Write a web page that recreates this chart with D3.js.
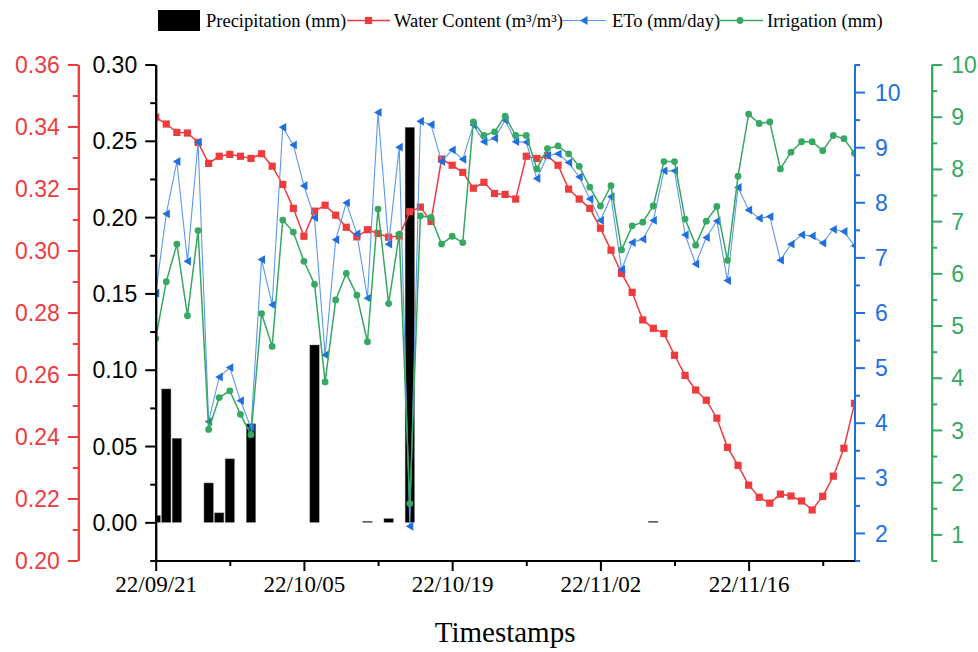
<!DOCTYPE html>
<html>
<head>
<meta charset="utf-8">
<script src="https://cdn.jsdelivr.net/npm/d3@7"></script>
<style>
  html, body { margin: 0; padding: 0; background: #fff; }
  svg { display: block; }
</style>
</head>
<body>
<svg id="chart" width="978" height="652"></svg>
<script>
// ---------------- DATA ----------------
const dates = [
  "2022-09-21","2022-09-22","2022-09-23","2022-09-24","2022-09-25","2022-09-26","2022-09-27","2022-09-28","2022-09-29","2022-09-30",
  "2022-10-01","2022-10-02","2022-10-03","2022-10-04","2022-10-05","2022-10-06","2022-10-07","2022-10-08","2022-10-09","2022-10-10",
  "2022-10-11","2022-10-12","2022-10-13","2022-10-14","2022-10-15","2022-10-16","2022-10-17","2022-10-18","2022-10-19","2022-10-20",
  "2022-10-21","2022-10-22","2022-10-23","2022-10-24","2022-10-25","2022-10-26","2022-10-27","2022-10-28","2022-10-29","2022-10-30",
  "2022-10-31","2022-11-01","2022-11-02","2022-11-03","2022-11-04","2022-11-05","2022-11-06","2022-11-07","2022-11-08","2022-11-09",
  "2022-11-10","2022-11-11","2022-11-12","2022-11-13","2022-11-14","2022-11-15","2022-11-16","2022-11-17","2022-11-18","2022-11-19",
  "2022-11-20","2022-11-21","2022-11-22","2022-11-23","2022-11-24","2022-11-25","2022-11-26"
];

const precipitation = [
  0.0045, 0.0874, 0.0551, 0, 0, 0.0258, 0.0062, 0.0416, 0, 0.0645,
  0, 0, 0, 0, 0, 0.1162, 0, 0, 0, 0,
  0.0007, 0, 0.0024, 0, 0.2588, 0, 0, 0, 0, 0,
  0, 0, 0, 0, 0, 0, 0, 0, 0, 0,
  0, 0, 0, 0, 0, 0, 0, 0.0007, 0, 0,
  0, 0, 0, 0, 0, 0, 0, 0, 0, 0,
  0, 0, 0, 0, 0, 0, 0
];

const waterContent = [
  0.3430, 0.3408, 0.3381, 0.3379, 0.3349, 0.3281, 0.3304, 0.3310, 0.3304, 0.3297,
  0.3312, 0.3272, 0.3213, 0.3136, 0.3046, 0.3127, 0.3146, 0.3114, 0.3075, 0.3044,
  0.3067, 0.3055, 0.3043, 0.3047, 0.3125, 0.3140, 0.3094, 0.3295, 0.3275, 0.3252,
  0.3201, 0.3220, 0.3184, 0.3181, 0.3166, 0.3304, 0.3297, 0.3306, 0.3275, 0.3198,
  0.3166, 0.3136, 0.3072, 0.3001, 0.2926, 0.2865, 0.2776, 0.2749, 0.2732, 0.2662,
  0.2597, 0.2550, 0.2517, 0.2459, 0.2365, 0.2307, 0.2243, 0.2204, 0.2185, 0.2214,
  0.2208, 0.2192, 0.2163, 0.2207, 0.2272, 0.2362, 0.2507
];

const eto = [
  6.35, 7.79, 8.74, 6.93, 9.09, 4.02, 4.83, 5.00, 4.40, 3.91,
  6.96, 6.14, 9.36, 9.04, 8.30, 7.72, 5.23, 7.32, 7.99, 7.43,
  6.26, 9.63, 7.24, 9.00, 2.12, 9.47, 9.41, 8.74, 8.95, 8.78,
  9.40, 9.10, 9.16, 9.49, 9.10, 9.09, 8.43, 8.85, 8.88, 8.72,
  8.46, 8.06, 7.67, 8.10, 6.78, 7.27, 7.33, 7.67, 8.57, 8.57,
  7.41, 6.88, 7.36, 7.66, 6.58, 8.27, 7.86, 7.71, 7.74, 6.95,
  7.24, 7.41, 7.39, 7.26, 7.51, 7.47, 7.21
];

const irrigation = [
  4.75, 5.84, 6.56, 5.19, 6.82, 3.01, 3.62, 3.75, 3.30, 2.91,
  5.23, 4.60, 7.02, 6.79, 6.23, 5.79, 3.92, 5.49, 6.00, 5.58,
  4.69, 7.23, 5.42, 6.75, 1.59, 7.10, 7.07, 6.56, 6.71, 6.59,
  8.90, 8.64, 8.71, 9.01, 8.64, 8.64, 8.00, 8.39, 8.44, 8.29,
  8.05, 7.65, 7.29, 7.68, 6.45, 6.91, 6.98, 7.29, 8.14, 8.14,
  7.04, 6.54, 7.00, 7.28, 6.25, 7.86, 9.05, 8.87, 8.90, 8.00,
  8.32, 8.52, 8.52, 8.35, 8.64, 8.58, 8.30
];

const xTickDates = ["2022-09-21","2022-10-05","2022-10-19","2022-11-02","2022-11-16"];
const xMinorDates = ["2022-09-28","2022-10-12","2022-10-26","2022-11-09","2022-11-23"];
const blackTicks = [0.00, 0.05, 0.10, 0.15, 0.20, 0.25, 0.30];
const blackMinor = [-0.025, 0.025, 0.075, 0.125, 0.175, 0.225, 0.275];
const redTicks = [0.20, 0.22, 0.24, 0.26, 0.28, 0.30, 0.32, 0.34, 0.36];
const redMinor = [0.21, 0.23, 0.25, 0.27, 0.29, 0.31, 0.33, 0.35];
const blueTicks = [2, 3, 4, 5, 6, 7, 8, 9, 10];
const blueMinor = [1.5, 2.5, 3.5, 4.5, 5.5, 6.5, 7.5, 8.5, 9.5, 10.5];
const greenTicks = [1, 2, 3, 4, 5, 6, 7, 8, 9, 10];
const greenMinor = [0.5, 1.5, 2.5, 3.5, 4.5, 5.5, 6.5, 7.5, 8.5, 9.5];

const legendLabels = ["Precipitation (mm)", "Water Content (m³/m³)", "ETo (mm/day)", "Irrigation (mm)"];

// ---------------- STYLE / LAYOUT ----------------
const RED = "#ee3b3e", BLUE = "#1f6fe0", BLUE_LINE = "#5b98ec", GREEN = "#35a862";
const L = 155.7, R = 854.5, T = 64.5, B = 560.5;
const SANS = "'Liberation Sans', Arial, sans-serif";
const SERIF = "'Liberation Serif', 'Times New Roman', serif";
const TICK_FS = 23;

const parse = d3.utcParse("%Y-%m-%d");
const data = dates.map((d, i) => ({
  date: parse(d), p: precipitation[i], wc: waterContent[i], eto: eto[i], irr: irrigation[i]
}));

const svg = d3.select("#chart");

const x = d3.scaleUtc().domain([parse("2022-09-21"), parse("2022-11-26")]).range([L, R]);
const yBlack = d3.scaleLinear().domain([-0.025, 0.30]).range([B, T]);
const yRed = d3.scaleLinear().domain([0.20, 0.36]).range([B, T]);
const yBlue = d3.scaleLinear().domain([1.5, 10.5]).range([B, T]);
const yGreen = d3.scaleLinear().domain([0.5, 10]).range([B, T]);

const dayW = x(parse("2022-09-22")) - x(parse("2022-09-21"));
const barW = dayW * 0.88;

svg.append("defs").append("clipPath").attr("id", "plotclip")
  .append("rect").attr("x", L).attr("y", T - 10).attr("width", R - L).attr("height", B - T + 10);

const plot = svg.append("g").attr("clip-path", "url(#plotclip)");

// bars
plot.append("g").selectAll("rect").data(data.filter(d => d.p > 0)).join("rect")
  .attr("x", d => x(d.date) - barW / 2)
  .attr("width", barW)
  .attr("y", d => yBlack(d.p))
  .attr("height", d => yBlack(0) - yBlack(d.p))
  .attr("fill", "#000")
  .attr("stroke", "#777").attr("stroke-width", 0.5);

// water content
plot.append("path").datum(data)
  .attr("fill", "none").attr("stroke", RED).attr("stroke-width", 1.5)
  .attr("d", d3.line().x(d => x(d.date)).y(d => yRed(d.wc)));
plot.append("g").selectAll("rect").data(data).join("rect")
  .attr("x", d => x(d.date) - 3.6).attr("y", d => yRed(d.wc) - 3.6)
  .attr("width", 7.2).attr("height", 7.2).attr("fill", RED);

// ETo
plot.append("path").datum(data)
  .attr("fill", "none").attr("stroke", BLUE_LINE).attr("stroke-width", 1.1)
  .attr("d", d3.line().x(d => x(d.date)).y(d => yBlue(d.eto)));
const tri = "M-4,0 L3.5,-4.4 L3.5,4.4 Z";
plot.append("g").selectAll("path").data(data).join("path")
  .attr("transform", d => `translate(${x(d.date)},${yBlue(d.eto)})`)
  .attr("d", tri).attr("fill", BLUE);

// Irrigation
plot.append("path").datum(data)
  .attr("fill", "none").attr("stroke", GREEN).attr("stroke-width", 1.5)
  .attr("d", d3.line().x(d => x(d.date)).y(d => yGreen(d.irr)));
plot.append("g").selectAll("circle").data(data).join("circle")
  .attr("cx", d => x(d.date)).attr("cy", d => yGreen(d.irr))
  .attr("r", 3.4).attr("fill", GREEN);

// ---------------- AXES ----------------
function styleAxis(g, color, font, size) {
  g.attr("font-family", font).attr("font-size", size);
  g.select(".domain").attr("stroke", color).attr("stroke-width", 2);
  g.selectAll(".tick line").attr("stroke", color).attr("stroke-width", 2);
  g.selectAll(".tick text").attr("fill", color);
}

function yAxis(scale, xPos, side, major, minor, color, fmt, pad) {
  const mk = side === "left" ? d3.axisLeft : d3.axisRight;
  const gMinor = svg.append("g").attr("transform", `translate(${xPos},0)`)
    .call(mk(scale).tickValues(minor).tickSize(5.5).tickSizeOuter(0).tickFormat(""));
  styleAxis(gMinor, color, SANS, TICK_FS);
  const gMajor = svg.append("g").attr("transform", `translate(${xPos},0)`)
    .call(mk(scale).tickValues(major).tickSize(10.5).tickSizeOuter(0).tickPadding(pad).tickFormat(fmt));
  styleAxis(gMajor, color, SANS, TICK_FS);
  gMajor.selectAll(".tick text").attr("dy", "0.35em");
}

yAxis(yRed, 78.3, "left", redTicks, redMinor, RED, d3.format(".2f"), 8);
yAxis(yBlack, L, "left", blackTicks, blackMinor, "#000", d3.format(".2f"), 8);
yAxis(yBlue, R, "right", blueTicks, blueMinor, BLUE, d3.format("d"), 10);
yAxis(yGreen, 931.7, "right", greenTicks, greenMinor, GREEN, d3.format("d"), 9);

// x axis
const gxMinor = svg.append("g").attr("transform", `translate(0,${B})`)
  .call(d3.axisBottom(x).tickValues(xMinorDates.map(parse)).tickSize(5.5).tickSizeOuter(0).tickFormat(""));
styleAxis(gxMinor, "#000", SERIF, 23);
const gx = svg.append("g").attr("transform", `translate(0,${B})`)
  .call(d3.axisBottom(x).tickValues(xTickDates.map(parse)).tickSize(10.5).tickSizeOuter(0)
    .tickPadding(5).tickFormat(d3.utcFormat("%y/%m/%d")));
styleAxis(gx, "#000", SERIF, 23);

svg.append("text").attr("x", (L + R) / 2).attr("y", 642)
  .attr("text-anchor", "middle").attr("font-family", SERIF).attr("font-size", 29)
  .attr("fill", "#000").text("Timestamps");

// ---------------- LEGEND ----------------
const lg = svg.append("g").attr("font-family", SERIF).attr("font-size", 18.5).attr("fill", "#000");
lg.append("rect").attr("x", 158).attr("y", 10).attr("width", 42).attr("height", 21).attr("fill", "#000");
lg.append("text").attr("x", 206).attr("y", 26.5).text(legendLabels[0]);

lg.append("line").attr("x1", 347).attr("x2", 390).attr("y1", 20.5).attr("y2", 20.5).attr("stroke", RED).attr("stroke-width", 1.5);
lg.append("rect").attr("x", 368.5 - 3.6).attr("y", 20.5 - 3.6).attr("width", 7.2).attr("height", 7.2).attr("fill", RED);
lg.append("text").attr("x", 394).attr("y", 26.5).text(legendLabels[1]);

lg.append("line").attr("x1", 562).attr("x2", 606).attr("y1", 20.5).attr("y2", 20.5).attr("stroke", BLUE_LINE).attr("stroke-width", 1.1);
lg.append("path").attr("transform", "translate(584,20.5)").attr("d", tri).attr("fill", BLUE);
lg.append("text").attr("x", 612).attr("y", 26.5).text(legendLabels[2]);

lg.append("line").attr("x1", 717).attr("x2", 763).attr("y1", 20.5).attr("y2", 20.5).attr("stroke", GREEN).attr("stroke-width", 1.5);
lg.append("circle").attr("cx", 740).attr("cy", 20.5).attr("r", 3.4).attr("fill", GREEN);
lg.append("text").attr("x", 767).attr("y", 26.5).text(legendLabels[3]);
</script>
</body>
</html>
